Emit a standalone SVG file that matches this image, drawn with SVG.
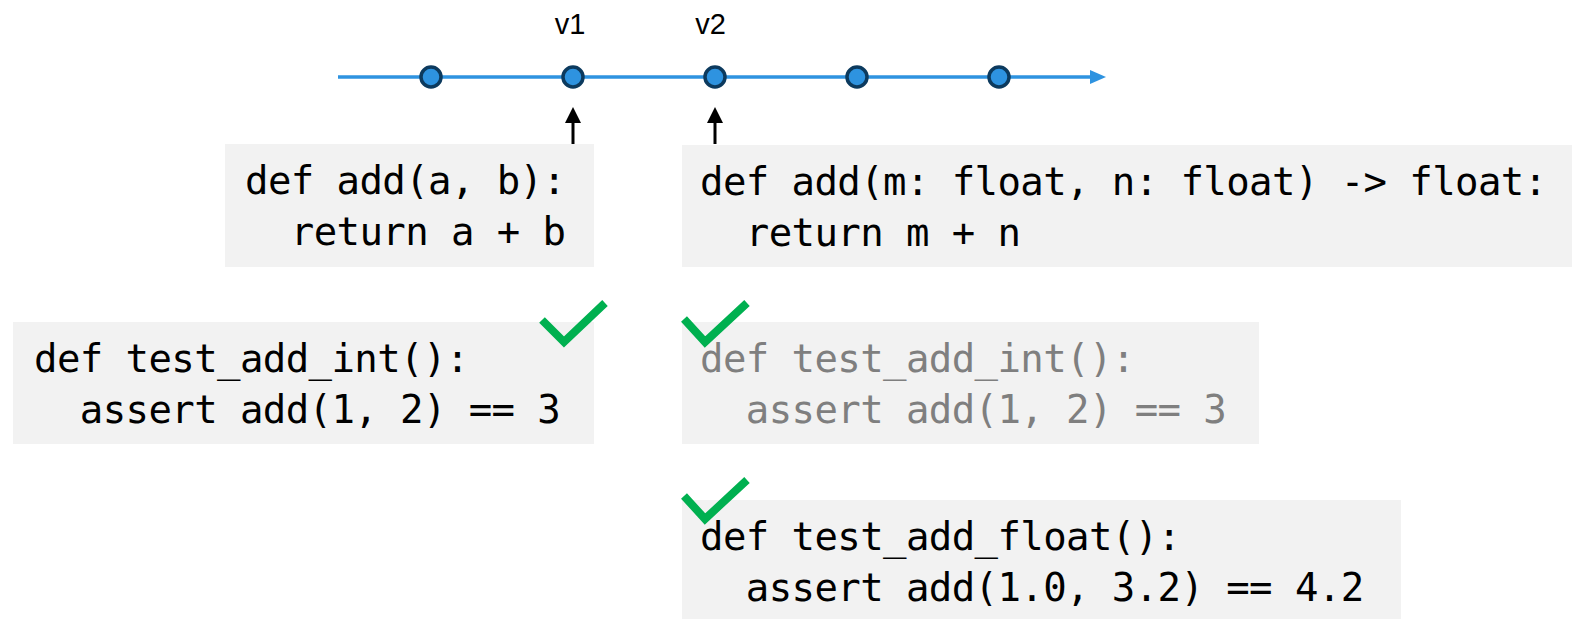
<svg xmlns="http://www.w3.org/2000/svg" width="1572" height="619" viewBox="0 0 1572 619">
<style>
.box{fill:#F2F2F2}
.code{font-family:"DejaVu Sans Mono","Liberation Mono",monospace;font-size:39px;letter-spacing:-0.6px;fill:#000;white-space:pre}
.gray{fill:#7F7F7F}
.lbl{font-family:"Liberation Sans",Arial,sans-serif;font-size:29px;fill:#000;text-anchor:middle}
.dot{fill:#2E93E0;stroke:#0C3A5E;stroke-width:3.5}
.check{fill:none;stroke:#00B050;stroke-width:8;stroke-linecap:butt;stroke-linejoin:miter}
.ptr{stroke:#000;stroke-width:3;fill:none}
</style>
<defs>
<marker id="blueHead" markerWidth="16" markerHeight="14" refX="0" refY="7" orient="auto" markerUnits="userSpaceOnUse">
<path d="M0,0 L16,7 L0,14 Z" fill="#2E93E0"/>
</marker>
<marker id="blackHead" markerWidth="16" markerHeight="16" refX="0" refY="8" orient="auto" markerUnits="userSpaceOnUse">
<path d="M0,0 L16,8 L0,16 Z" fill="#000"/>
</marker>
</defs>
<g id="connectors">
<line x1="338" y1="77" x2="1090" y2="77" stroke="#2E93E0" stroke-width="3.5" marker-end="url(#blueHead)"/>
<line class="ptr" x1="573" y1="144" x2="573" y2="123" marker-end="url(#blackHead)"/>
<line class="ptr" x1="715" y1="144" x2="715" y2="123" marker-end="url(#blackHead)"/>
</g>
<g id="timeline">
<circle class="dot" cx="431" cy="77" r="10"/>
<circle class="dot" cx="573" cy="77" r="10"/>
<circle class="dot" cx="715" cy="77" r="10"/>
<circle class="dot" cx="857" cy="77" r="10"/>
<circle class="dot" cx="999" cy="77" r="10"/>
<text class="lbl" x="570" y="34">v1</text>
<text class="lbl" x="710.5" y="34">v2</text>
</g>
<g id="add_v1">
<rect class="box" x="225" y="144" width="369" height="123"/>
<text class="code" x="245" y="194">def add(a, b):</text>
<text class="code" x="245" y="245">  return a + b</text>
</g>
<g id="add_v2">
<rect class="box" x="682" y="145" width="890" height="122"/>
<text class="code" x="700" y="195">def add(m: float, n: float) -&gt; float:</text>
<text class="code" x="700" y="246">  return m + n</text>
</g>
<g id="test_int_v1">
<rect class="box" x="13" y="322" width="581" height="122"/>
<text class="code" x="34" y="372">def test_add_int():</text>
<text class="code" x="34" y="423">  assert add(1, 2) == 3</text>
<polyline class="check" points="542,320 564,342 605,303"/>
</g>
<g id="test_int_v2">
<rect class="box" x="682" y="322" width="577" height="122"/>
<text class="code gray" x="700" y="372">def test_add_int():</text>
<text class="code gray" x="700" y="423">  assert add(1, 2) == 3</text>
<polyline class="check" points="684,319 705,342 747,303"/>
</g>
<g id="test_float_v2">
<rect class="box" x="682" y="500" width="719" height="119"/>
<text class="code" x="700" y="550">def test_add_float():</text>
<text class="code" x="700" y="601">  assert add(1.0, 3.2) == 4.2</text>
<polyline class="check" points="684,496 705,519 747,480"/>
</g>
</svg>
